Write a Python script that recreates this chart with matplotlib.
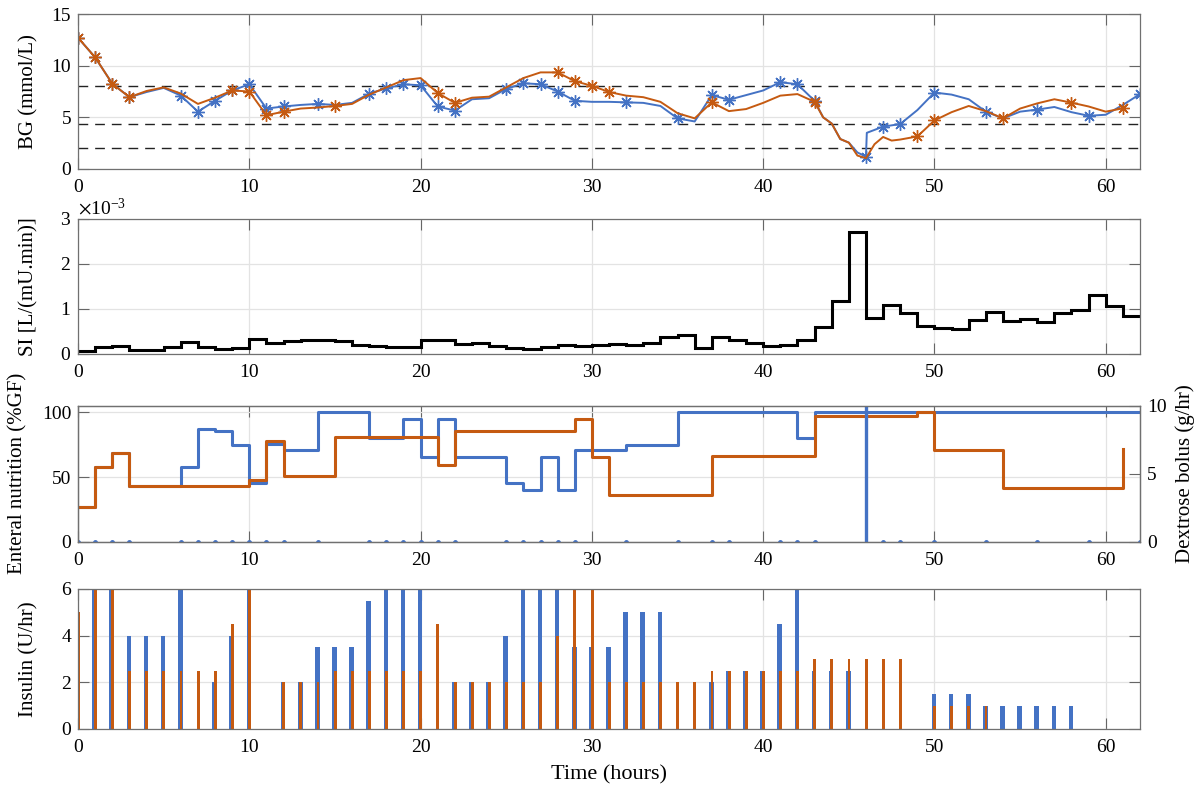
import numpy as np
import matplotlib
matplotlib.use("Agg")
import matplotlib.pyplot as plt
from matplotlib.ticker import ScalarFormatter

plt.rcParams['font.family'] = ['Liberation Serif', 'DejaVu Serif']
plt.rcParams['mathtext.fontset'] = 'stix'
plt.rcParams['font.size'] = 14

BLUE = '#4472C4'
ORANGE = '#C55A11'

# --- blood glucose model curves (mmol/L) ---
bg_blue_t = [0, 1, 2, 3, 4, 5, 6, 7, 8, 9, 10, 11, 12, 13, 14, 15, 16, 17, 18, 19, 20,
             21, 22, 23, 24, 25, 26, 27, 28, 29, 30, 31, 32, 33, 34, 35, 36, 37, 38, 39, 40,
             41, 42, 43, 43.5, 44, 44.5, 45, 45.5, 46, 46.05, 47, 48, 49, 50, 51, 52, 53, 54,
             55, 56, 57, 58, 59, 60, 61, 62]
bg_blue = [12.7, 10.8, 8.25, 6.95, 7.45, 7.85, 7.1, 5.55, 6.6, 7.6, 8.2, 5.85, 6.05, 6.2, 6.3,
           6.2, 6.4, 7.3, 7.8, 8.2, 8.1, 6.05, 5.65, 6.75, 6.85, 7.75, 8.3, 8.2, 7.5, 6.6, 6.5,
           6.5, 6.45, 6.4, 6.1, 4.9, 4.6, 7.15, 6.7, 7.15, 7.6, 8.4, 8.2, 6.6, 5.0, 4.4, 2.9,
           2.55, 1.6, 1.2, 3.5, 4.1, 4.35, 5.7, 7.4, 7.2, 6.75, 5.55, 4.9, 5.55, 5.75, 6.0, 5.5,
           5.15, 5.25, 6.2, 7.25]

bg_orange_t = [0, 1, 2, 3, 4, 5, 6, 7, 8, 9, 10, 11, 12, 13, 14, 15, 16, 17, 18, 19, 20,
               21, 22, 23, 24, 25, 26, 27, 28, 29, 30, 31, 32, 33, 34, 35, 36, 37, 38, 39, 40,
               41, 42, 43, 43.5, 44, 44.5, 45, 45.5, 46, 46.5, 47, 47.5, 48, 49, 50, 51, 52, 53,
               54, 55, 56, 57, 58, 59, 60, 61]
bg_orange = [12.7, 10.8, 8.25, 6.95, 7.55, 7.9, 7.3, 6.3, 6.9, 7.6, 7.5, 5.2, 5.55, 5.85, 5.95,
             6.1, 6.3, 7.2, 7.9, 8.6, 8.8, 7.35, 6.4, 6.9, 7.0, 7.9, 8.8, 9.35, 9.35, 8.5, 8.05,
             7.45, 7.1, 6.95, 6.5, 5.4, 4.9, 6.45, 5.6, 5.8, 6.4, 7.1, 7.25, 6.5, 5.0, 4.4, 2.9,
             2.55, 1.3, 1.05, 2.4, 3.1, 2.75, 2.85, 3.15, 4.7, 5.5, 6.1, 5.6, 4.9, 5.85, 6.35,
             6.75, 6.42, 6.05, 5.55, 5.87]

# measurement times (hours)
meas_blue = [0, 1, 2, 3, 6, 7, 8, 9, 10, 11, 12, 14, 17, 18, 19, 20, 21, 22, 25, 26, 27, 28,
             29, 32, 35, 37, 38, 41, 42, 43, 46, 47, 48, 50, 53, 56, 59, 62]
meas_orange = [0, 1, 2, 3, 9, 10, 11, 12, 15, 21, 22, 28, 29, 30, 31, 37, 43, 49, 50, 54, 58, 61]

bg_limits = [8.0, 4.4, 2.0]

# --- insulin sensitivity, hourly (x 1e-3 L/(mU.min)) ---
si_hourly = [0.06, 0.155, 0.185, 0.08, 0.08, 0.155, 0.27, 0.15, 0.11, 0.14, 0.34, 0.245, 0.28,
             0.30, 0.30, 0.28, 0.21, 0.17, 0.15, 0.15, 0.30, 0.30, 0.215, 0.245, 0.17, 0.125,
             0.11, 0.155, 0.20, 0.185, 0.21, 0.215, 0.21, 0.245, 0.37, 0.43, 0.125, 0.385, 0.30,
             0.245, 0.185, 0.21, 0.30, 0.59, 1.185, 2.71, 0.79, 1.09, 0.90, 0.63, 0.58, 0.56,
             0.76, 0.94, 0.74, 0.785, 0.72, 0.91, 0.985, 1.30, 1.06, 0.85]

# --- enteral nutrition (%GF) ---
en_blue_t = [0, 1, 2, 3, 6, 7, 8, 9, 10, 11, 12, 14, 17, 19, 20, 21, 22, 25, 26, 27, 28, 29,
             32, 35, 42, 43, 62]
en_blue = [27, 57.5, 68.5, 42.8, 57.4, 87.2, 85.6, 74.4, 45.4, 75.6, 70.5, 100, 80, 94.6, 65.4,
           94.9, 65.4, 45.4, 39.7, 65.4, 39.7, 70.5, 74.9, 100, 80, 100, 100]
en_orange_t = [0, 1, 2, 3, 10, 11, 12, 15, 21, 22, 29, 30, 31, 37, 43, 49, 50, 54, 61]
en_orange = [27, 57.5, 68.5, 42.8, 48, 78, 50.5, 81, 59.5, 85.6, 95, 65.4, 36, 66.4, 97.4, 100,
             70.5, 41.5, 72]

# dextrose bolus (g/hr) at each blue measurement
dextrose = [20 if t == 46 else 0 for t in meas_blue]

# --- insulin (U/hr), hourly from t = 0 ---
ins_blue = [5, 6, 6, 4, 4, 4, 6, 0, 2, 4, 6, 0, 2, 2, 3.5, 3.5, 3.5, 5.5, 6, 6, 6, 0, 2, 2, 2,
            4, 6, 6, 6, 3.5, 3.5, 3.5, 5, 5, 5, 0, 0, 2, 2.5, 2.5, 2.5, 4.5, 6, 2.5, 2.5, 2.5,
            0, 0, 0, 0, 1.5, 1.5, 1.5, 1, 1, 1, 1, 1, 1]
ins_orange = [5, 6, 6, 2.5, 2.5, 2.5, 2.5, 2.5, 2.5, 4.5, 6, 0, 2, 2, 2, 2.5, 2.5, 2.5, 2.5, 2.5,
              2.5, 4.5, 2, 2, 2, 2, 2, 2, 4, 6, 6, 2, 2, 2, 2, 2, 2, 2.5, 2.5, 2.5, 2.5, 2.5,
              2.5, 3, 3, 3, 3, 3, 3, 0, 1, 1, 1, 1, 0, 0, 0, 0, 0]

xticks = list(range(0, 61, 10))


def matlab_style(ax, right=True):
    ax.set_xlim(0, 62)
    ax.set_xticks(xticks)
    ax.grid(True, color='#e3e3e3', lw=0.9)
    ax.set_axisbelow(True)
    ax.tick_params(direction='in', length=8, width=0.8, top=True, right=right,
                   color='#666666', labelsize=14, pad=5)
    ax.tick_params(axis='x', pad=7)
    for s in ax.spines.values():
        s.set_color('#707070')
        s.set_linewidth(0.9)


fig = plt.figure(figsize=(11.99, 7.96), dpi=100)
left, width = 0.0651, 0.8857
ax1 = fig.add_axes([left, 0.7877, width, 0.1947])
ax2 = fig.add_axes([left, 0.5553, width, 0.1696])
ax3 = fig.add_axes([left, 0.3191, width, 0.1712])
ax4 = fig.add_axes([left, 0.0842, width, 0.1759])

asterisk = (8, 2, 0)

# BG panel
for y in bg_limits:
    ax1.axhline(y, color='#222222', lw=1.0, dashes=(7, 5))
ax1.plot(bg_blue_t, bg_blue, color=BLUE, lw=1.4)
ax1.plot(meas_blue, np.interp(meas_blue, bg_blue_t, bg_blue), ls='none', marker=asterisk,
         ms=9, mew=1.0, color=BLUE)
ax1.plot(bg_orange_t, bg_orange, color=ORANGE, lw=1.4)
ax1.plot(meas_orange, np.interp(meas_orange, bg_orange_t, bg_orange), ls='none',
         marker=asterisk, ms=9, mew=1.0, color=ORANGE)
matlab_style(ax1)
ax1.set_ylim(0, 15)
ax1.set_yticks([0, 5, 10, 15])
ax1.set_ylabel('BG (mmol/L)', fontsize=15)
ax1.yaxis.set_label_coords(-0.037, 0.5)

# SI panel
si_edges = np.arange(len(si_hourly) + 1)
ax2.stairs(np.array(si_hourly) * 1e-3, si_edges, baseline=None, color='black', lw=2.2)
matlab_style(ax2)
ax2.set_ylim(0, 3e-3)
ax2.set_yticks([0, 1e-3, 2e-3, 3e-3])
fmt = ScalarFormatter(useMathText=True)
fmt.set_powerlimits((-2, 2))
ax2.yaxis.set_major_formatter(fmt)
ax2.yaxis.get_offset_text().set_fontsize(14)
ax2.set_ylabel('SI [L/(mU.min)]', fontsize=15)
ax2.yaxis.set_label_coords(-0.037, 0.5)

# enteral nutrition and dextrose
ax3.step(en_blue_t, en_blue, where='post', color=BLUE, lw=2.2)
ax3.step(en_orange_t, en_orange, where='post', color=ORANGE, lw=2.2)
matlab_style(ax3, right=False)
ax3.set_ylim(0, 105)
ax3.set_yticks([0, 50, 100])
ax3.set_ylabel('Enteral nutrition (%GF)', fontsize=15)
ax3.yaxis.set_label_coords(-0.048, 0.5)

ax3r = ax3.twinx()
ax3r.vlines(meas_blue, 0, dextrose, color=BLUE, lw=2.4)
ax3r.plot(meas_blue, dextrose, ls='none', marker='.', ms=5, color=BLUE)
ax3r.set_ylim(0, 10)
ax3r.set_yticks([0, 5, 10])
ax3r.tick_params(direction='in', length=8, width=0.8, color='#666666', labelsize=14, pad=5)
for s in ax3r.spines.values():
    s.set_color('#707070')
    s.set_linewidth(0.9)
ax3r.set_ylabel('Dextrose bolus (g/hr)', fontsize=15)
ax3r.yaxis.set_label_coords(1.033, 0.5)

# insulin
hours = np.arange(len(ins_blue))
ax4.bar(hours - 0.03, ins_blue, width=0.27, color=BLUE, lw=0)
ax4.bar(np.arange(len(ins_orange)) + 0.01, ins_orange, width=0.17, color=ORANGE, lw=0)
matlab_style(ax4)
ax4.set_ylim(0, 6)
ax4.set_yticks([0, 2, 4, 6])
ax4.set_ylabel('Insulin (U/hr)', fontsize=15)
ax4.yaxis.set_label_coords(-0.037, 0.5)
ax4.set_xlabel('Time (hours)', fontsize=16, labelpad=7)

fig.savefig('out.png', dpi=100)
